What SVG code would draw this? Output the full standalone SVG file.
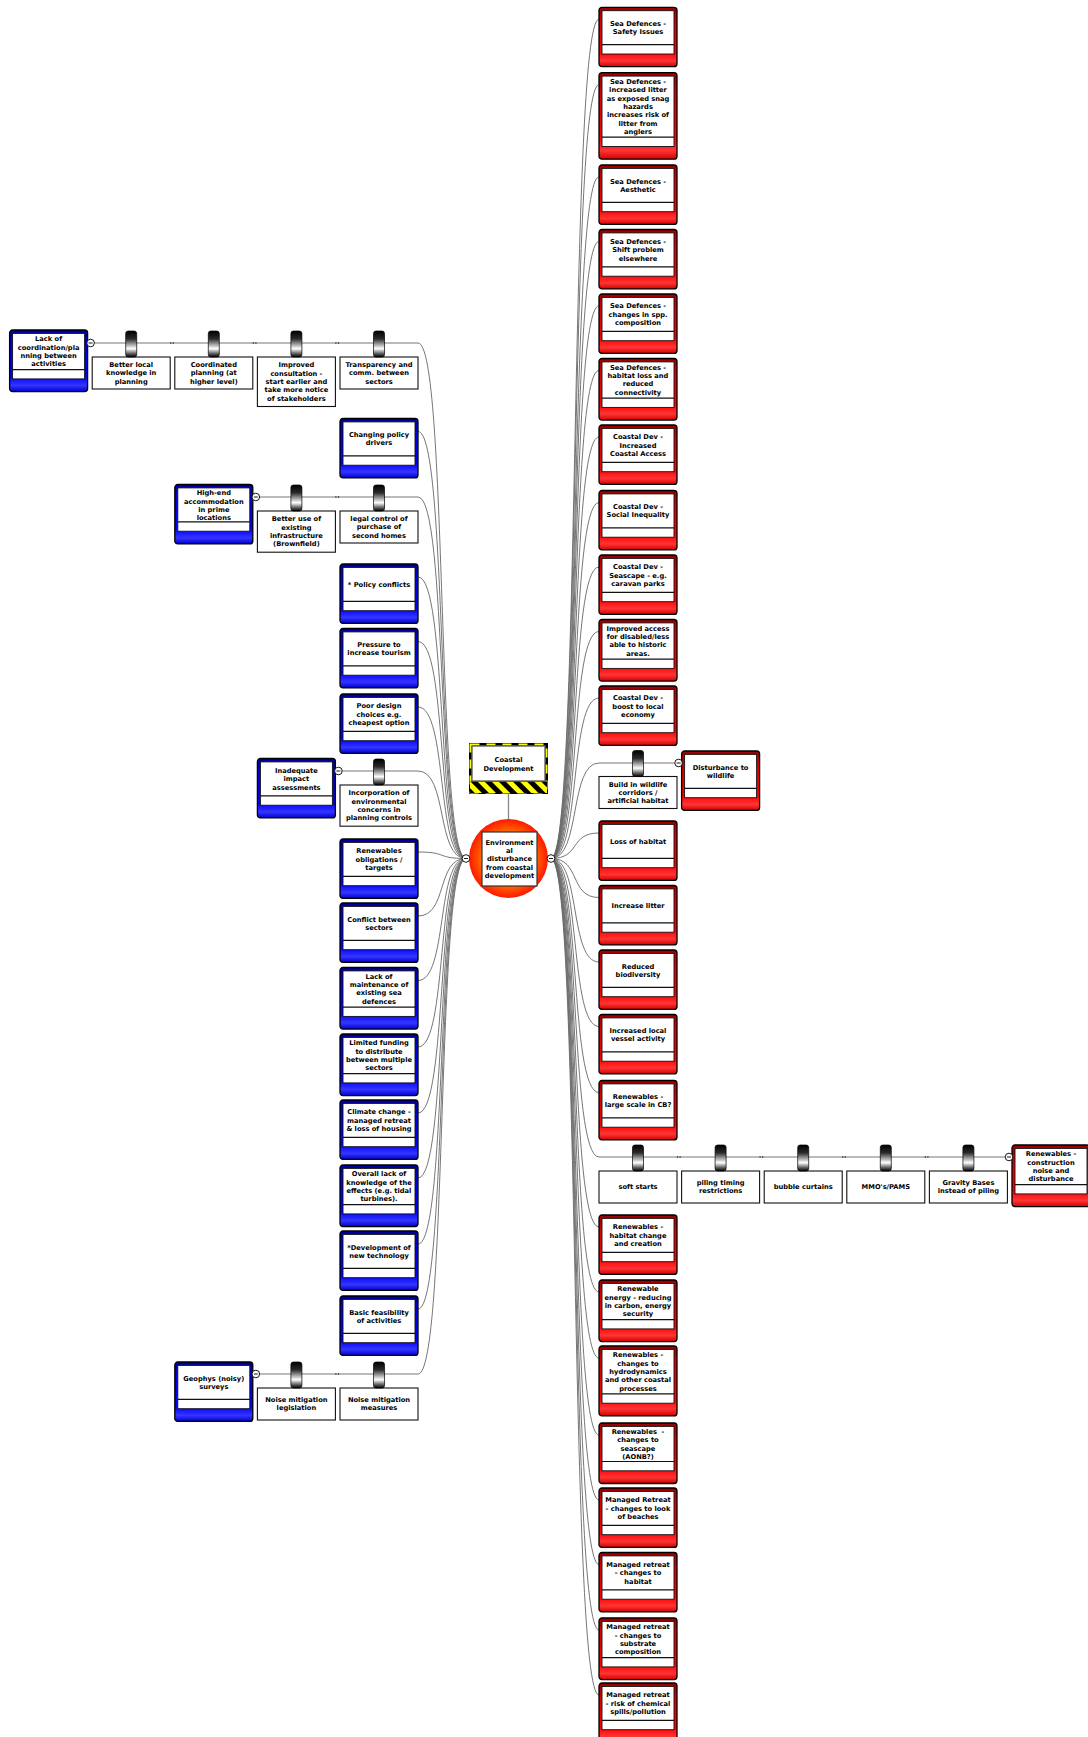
<svg xmlns="http://www.w3.org/2000/svg" xmlns:xlink="http://www.w3.org/1999/xlink" width="1088" height="1737" viewBox="0 0 1088 1737">
<defs>
<linearGradient id="gRed" x1="0" y1="0" x2="0" y2="1">
<stop offset="0" stop-color="#990000"/><stop offset="0.25" stop-color="#dd0000"/><stop offset="0.75" stop-color="#ff0000"/><stop offset="0.9" stop-color="#ff3535"/><stop offset="1" stop-color="#d00000"/>
</linearGradient>
<linearGradient id="gBlue" x1="0" y1="0" x2="0" y2="1">
<stop offset="0" stop-color="#000099"/><stop offset="0.25" stop-color="#0000dd"/><stop offset="0.75" stop-color="#0000ff"/><stop offset="0.9" stop-color="#3535ff"/><stop offset="1" stop-color="#0000d0"/>
</linearGradient>
<linearGradient id="gBar" x1="0" y1="0" x2="0" y2="1">
<stop offset="0" stop-color="#000"/><stop offset="0.3" stop-color="#2a2a2a"/><stop offset="0.68" stop-color="#fff"/><stop offset="0.88" stop-color="#555"/><stop offset="1" stop-color="#000"/>
</linearGradient>
<radialGradient id="gCirc" cx="0.5" cy="0.5" r="0.5">
<stop offset="0" stop-color="#ffb400"/><stop offset="0.55" stop-color="#ff8c00"/><stop offset="1" stop-color="#ff1800"/>
</radialGradient>
<pattern id="hz" width="10" height="10" patternUnits="userSpaceOnUse" patternTransform="rotate(-45)">
<rect width="10" height="10" fill="#ffff00"/><rect width="5" height="10" fill="#000"/>
</pattern>
<rect id="bar" x="-5.5" y="0" width="11" height="26" rx="2.5" fill="url(#gBar)" stroke="#000" stroke-width="0.7"/>
<g id="port"><circle r="3.8" fill="#fff" stroke="#000" stroke-width="0.9"/><line x1="-2" y1="0" x2="2" y2="0" stroke="#000" stroke-width="0.9"/></g>
<rect id="tick" x="-0.6" y="-1" width="1.2" height="2" fill="#555"/>
</defs>
<style>
.ro{fill:url(#gRed);stroke:#000;stroke-width:1.3}
.bo{fill:url(#gBlue);stroke:#000;stroke-width:1.3}
.in{fill:#fff;stroke:#111;stroke-width:0.9}
.dv{stroke:#111;stroke-width:1.2}
.mb{fill:#fff;stroke:#111;stroke-width:1.1}
.t{font-family:"DejaVu Sans",Verdana,sans-serif;font-weight:bold;font-size:6.7px;text-anchor:middle;fill:#000}
.c{fill:none;stroke:#666;stroke-width:0.9}
</style>
<rect width="1088" height="1737" fill="#fff"/>

<g id="connectors">
<line x1="508.5" y1="794" x2="508.5" y2="819" stroke="#888" stroke-width="1.3"/>
<path class="c" d="M466 858.5C436 858.5 448 343 418 343"/>
<path class="c" d="M466 858.5C436 858.5 448 431.5 418 431.5"/>
<path class="c" d="M466 858.5C436 858.5 448 497 418 497"/>
<path class="c" d="M466 858.5C436 858.5 448 577 418 577"/>
<path class="c" d="M466 858.5C436 858.5 448 641.5 418 641.5"/>
<path class="c" d="M466 858.5C436 858.5 448 707 418 707"/>
<path class="c" d="M466 858.5C436 858.5 448 771 418 771"/>
<path class="c" d="M466 858.5C436 858.5 448 852 418 852"/>
<path class="c" d="M466 858.5C436 858.5 448 916 418 916"/>
<path class="c" d="M466 858.5C436 858.5 448 980.5 418 980.5"/>
<path class="c" d="M466 858.5C436 858.5 448 1047 418 1047"/>
<path class="c" d="M466 858.5C436 858.5 448 1113 418 1113"/>
<path class="c" d="M466 858.5C436 858.5 448 1178 418 1178"/>
<path class="c" d="M466 858.5C436 858.5 448 1244 418 1244"/>
<path class="c" d="M466 858.5C436 858.5 448 1309 418 1309"/>
<path class="c" d="M466 858.5C436 858.5 448 1374 418 1374"/>
<path class="c" d="M551 858.5C581 858.5 569 19.3 599 19.3"/>
<path class="c" d="M551 858.5C581 858.5 569 84.7 599 84.7"/>
<path class="c" d="M551 858.5C581 858.5 569 177 599 177"/>
<path class="c" d="M551 858.5C581 858.5 569 241.5 599 241.5"/>
<path class="c" d="M551 858.5C581 858.5 569 306 599 306"/>
<path class="c" d="M551 858.5C581 858.5 569 370.5 599 370.5"/>
<path class="c" d="M551 858.5C581 858.5 569 437 599 437"/>
<path class="c" d="M551 858.5C581 858.5 569 502.5 599 502.5"/>
<path class="c" d="M551 858.5C581 858.5 569 567 599 567"/>
<path class="c" d="M551 858.5C581 858.5 569 631.5 599 631.5"/>
<path class="c" d="M551 858.5C581 858.5 569 698 599 698"/>
<path class="c" d="M551 858.5C581 858.5 569 763 599 763"/>
<path class="c" d="M551 858.5C581 858.5 569 833 599 833"/>
<path class="c" d="M551 858.5C581 858.5 569 897.5 599 897.5"/>
<path class="c" d="M551 858.5C581 858.5 569 962 599 962"/>
<path class="c" d="M551 858.5C581 858.5 569 1026.5 599 1026.5"/>
<path class="c" d="M551 858.5C581 858.5 569 1092.5 599 1092.5"/>
<path class="c" d="M551 858.5C581 858.5 569 1157 599 1157"/>
<path class="c" d="M551 858.5C581 858.5 569 1227 599 1227"/>
<path class="c" d="M551 858.5C581 858.5 569 1292 599 1292"/>
<path class="c" d="M551 858.5C581 858.5 569 1358 599 1358"/>
<path class="c" d="M551 858.5C581 858.5 569 1435 599 1435"/>
<path class="c" d="M551 858.5C581 858.5 569 1500 599 1500"/>
<path class="c" d="M551 858.5C581 858.5 569 1564.5 599 1564.5"/>
<path class="c" d="M551 858.5C581 858.5 569 1630 599 1630"/>
<path class="c" d="M551 858.5C581 858.5 569 1695 599 1695"/>
<line class="c" x1="418" y1="343" x2="94.4" y2="343"/>
<line class="c" x1="418" y1="497" x2="259.6" y2="497"/>
<line class="c" x1="418" y1="771" x2="342.2" y2="771"/>
<line class="c" x1="418" y1="1374" x2="259.6" y2="1374"/>
<line class="c" x1="599" y1="763" x2="674.8" y2="763"/>
<line class="c" x1="599" y1="1157" x2="1005.2" y2="1157"/>
<use href="#tick" x="170.7" y="343"/><use href="#tick" x="173.3" y="343"/>
<use href="#tick" x="253.3" y="343"/><use href="#tick" x="255.9" y="343"/>
<use href="#tick" x="335.9" y="343"/><use href="#tick" x="338.5" y="343"/>
<use href="#tick" x="335.9" y="497"/><use href="#tick" x="338.5" y="497"/>
<use href="#tick" x="335.9" y="1374"/><use href="#tick" x="338.5" y="1374"/>
<use href="#tick" x="677.5" y="1157"/><use href="#tick" x="680.1" y="1157"/>
<use href="#tick" x="760.1" y="1157"/><use href="#tick" x="762.7" y="1157"/>
<use href="#tick" x="842.7" y="1157"/><use href="#tick" x="845.3" y="1157"/>
<use href="#tick" x="925.3" y="1157"/><use href="#tick" x="927.9" y="1157"/>
</g>

<g id="coastal-development">
<rect x="469" y="743" width="79" height="51" fill="#000"/>
<rect x="470.5" y="744.5" width="76" height="48" fill="none" stroke="#ffff00" stroke-width="2" stroke-dasharray="9 7"/>
<rect x="470" y="781.5" width="77" height="11.5" fill="url(#hz)"/>
<rect x="472" y="746" width="73" height="35" fill="#fff" stroke="#666" stroke-width="1.4"/>
<text class="t"><tspan x="508.5" y="761.8">Coastal</tspan><tspan x="508.5" y="770.6">Development</tspan></text>
</g>
<g id="environmental-disturbance">
<circle cx="508.5" cy="858.5" r="39.5" fill="url(#gCirc)"/>
<rect x="482" y="832" width="55" height="54" fill="#fff" stroke="#333" stroke-width="1.2"/>
<text class="t"><tspan x="509.5" y="844.6">Environment</tspan><tspan x="509.5" y="852.9">al</tspan><tspan x="509.5" y="861.2">disturbance</tspan><tspan x="509.5" y="869.5">from coastal</tspan><tspan x="509.5" y="877.8">development</tspan></text>
</g>

<g id="r01" transform="translate(599,7.3)"><rect class="ro" width="78" height="59.4" rx="3"/><rect class="in" x="3" y="3.4" width="72" height="43.3"/><line class="dv" x1="3" y1="37.4" x2="75" y2="37.4"/><text class="t"><tspan x="39" y="18.55">Sea Defences -</tspan><tspan x="39" y="26.85">Safety Issues</tspan></text></g>
<g id="r02" transform="translate(599,72.7)"><rect class="ro" width="78" height="86.5" rx="3"/><rect class="in" x="3" y="3.4" width="72" height="70.4"/><line class="dv" x1="3" y1="64.5" x2="75" y2="64.5"/><text class="t"><tspan x="39" y="11.35">Sea Defences -</tspan><tspan x="39" y="19.65">increased litter</tspan><tspan x="39" y="27.95">as exposed snag</tspan><tspan x="39" y="36.25">hazards</tspan><tspan x="39" y="44.55">increases risk of</tspan><tspan x="39" y="52.85">litter from</tspan><tspan x="39" y="61.15">anglers</tspan></text></g>
<g id="r03" transform="translate(599,165)"><rect class="ro" width="78" height="59.4" rx="3"/><rect class="in" x="3" y="3.4" width="72" height="43.3"/><line class="dv" x1="3" y1="37.4" x2="75" y2="37.4"/><text class="t"><tspan x="39" y="18.55">Sea Defences -</tspan><tspan x="39" y="26.85">Aesthetic</tspan></text></g>
<g id="r04" transform="translate(599,229.5)"><rect class="ro" width="78" height="59.4" rx="3"/><rect class="in" x="3" y="3.4" width="72" height="43.3"/><line class="dv" x1="3" y1="37.4" x2="75" y2="37.4"/><text class="t"><tspan x="39" y="14.4">Sea Defences -</tspan><tspan x="39" y="22.7">Shift problem</tspan><tspan x="39" y="31">elsewhere</tspan></text></g>
<g id="r05" transform="translate(599,294)"><rect class="ro" width="78" height="59.4" rx="3"/><rect class="in" x="3" y="3.4" width="72" height="43.3"/><line class="dv" x1="3" y1="37.4" x2="75" y2="37.4"/><text class="t"><tspan x="39" y="14.4">Sea Defences -</tspan><tspan x="39" y="22.7">changes in spp.</tspan><tspan x="39" y="31">composition</tspan></text></g>
<g id="r06" transform="translate(599,358.5)"><rect class="ro" width="78" height="61.6" rx="3"/><rect class="in" x="3" y="3.4" width="72" height="45.5"/><line class="dv" x1="3" y1="39.6" x2="75" y2="39.6"/><text class="t"><tspan x="39" y="11.35">Sea Defences -</tspan><tspan x="39" y="19.65">habitat loss and</tspan><tspan x="39" y="27.95">reduced</tspan><tspan x="39" y="36.25">connectivity</tspan></text></g>
<g id="r07" transform="translate(599,425)"><rect class="ro" width="78" height="59.4" rx="3"/><rect class="in" x="3" y="3.4" width="72" height="43.3"/><line class="dv" x1="3" y1="37.4" x2="75" y2="37.4"/><text class="t"><tspan x="39" y="14.4">Coastal Dev -</tspan><tspan x="39" y="22.7">Increased</tspan><tspan x="39" y="31">Coastal Access</tspan></text></g>
<g id="r08" transform="translate(599,490.5)"><rect class="ro" width="78" height="59.4" rx="3"/><rect class="in" x="3" y="3.4" width="72" height="43.3"/><line class="dv" x1="3" y1="37.4" x2="75" y2="37.4"/><text class="t"><tspan x="39" y="18.55">Coastal Dev -</tspan><tspan x="39" y="26.85">Social Inequality</tspan></text></g>
<g id="r09" transform="translate(599,555)"><rect class="ro" width="78" height="59.4" rx="3"/><rect class="in" x="3" y="3.4" width="72" height="43.3"/><line class="dv" x1="3" y1="37.4" x2="75" y2="37.4"/><text class="t"><tspan x="39" y="14.4">Coastal Dev -</tspan><tspan x="39" y="22.7">Seascape - e.g.</tspan><tspan x="39" y="31">caravan parks</tspan></text></g>
<g id="r10" transform="translate(599,619.5)"><rect class="ro" width="78" height="61.6" rx="3"/><rect class="in" x="3" y="3.4" width="72" height="45.5"/><line class="dv" x1="3" y1="39.6" x2="75" y2="39.6"/><text class="t"><tspan x="39" y="11.35">Improved access</tspan><tspan x="39" y="19.65">for disabled/less</tspan><tspan x="39" y="27.95">able to historic</tspan><tspan x="39" y="36.25">areas.</tspan></text></g>
<g id="r11" transform="translate(599,686)"><rect class="ro" width="78" height="59.4" rx="3"/><rect class="in" x="3" y="3.4" width="72" height="43.3"/><line class="dv" x1="3" y1="37.4" x2="75" y2="37.4"/><text class="t"><tspan x="39" y="14.4">Coastal Dev -</tspan><tspan x="39" y="22.7">boost to local</tspan><tspan x="39" y="31">economy</tspan></text></g>
<g id="r12-disturbance" transform="translate(681.6,751)"><rect class="ro" width="78" height="59.4" rx="3"/><rect class="in" x="3" y="3.4" width="72" height="43.3"/><line class="dv" x1="3" y1="37.4" x2="75" y2="37.4"/><text class="t"><tspan x="39" y="18.55">Disturbance to</tspan><tspan x="39" y="26.85">wildlife</tspan></text></g>
<g id="m-wildlife-corridors" transform="translate(599,776.5)"><rect class="mb" width="78" height="32"/><text class="t"><tspan x="39" y="10">Build in wildlife</tspan><tspan x="39" y="18.3">corridors /</tspan><tspan x="39" y="26.6">artificial habitat</tspan></text></g>
<g id="r13" transform="translate(599,821)"><rect class="ro" width="78" height="59.4" rx="3"/><rect class="in" x="3" y="3.4" width="72" height="43.3"/><line class="dv" x1="3" y1="37.4" x2="75" y2="37.4"/><text class="t"><tspan x="39" y="22.7">Loss of habitat</tspan></text></g>
<g id="r14" transform="translate(599,885.5)"><rect class="ro" width="78" height="59.4" rx="3"/><rect class="in" x="3" y="3.4" width="72" height="43.3"/><line class="dv" x1="3" y1="37.4" x2="75" y2="37.4"/><text class="t"><tspan x="39" y="22.7">Increase litter</tspan></text></g>
<g id="r15" transform="translate(599,950)"><rect class="ro" width="78" height="59.4" rx="3"/><rect class="in" x="3" y="3.4" width="72" height="43.3"/><line class="dv" x1="3" y1="37.4" x2="75" y2="37.4"/><text class="t"><tspan x="39" y="18.55">Reduced</tspan><tspan x="39" y="26.85">biodiversity</tspan></text></g>
<g id="r16" transform="translate(599,1014.5)"><rect class="ro" width="78" height="59.4" rx="3"/><rect class="in" x="3" y="3.4" width="72" height="43.3"/><line class="dv" x1="3" y1="37.4" x2="75" y2="37.4"/><text class="t"><tspan x="39" y="18.55">Increased local</tspan><tspan x="39" y="26.85">vessel activity</tspan></text></g>
<g id="r17" transform="translate(599,1080.5)"><rect class="ro" width="78" height="59.4" rx="3"/><rect class="in" x="3" y="3.4" width="72" height="43.3"/><line class="dv" x1="3" y1="37.4" x2="75" y2="37.4"/><text class="t"><tspan x="39" y="18.55">Renewables -</tspan><tspan x="39" y="26.85">large scale in CB?</tspan></text></g>
<g id="r18-construction" transform="translate(1012,1145)"><rect class="ro" width="78" height="61.6" rx="3"/><rect class="in" x="3" y="3.4" width="72" height="45.5"/><line class="dv" x1="3" y1="39.6" x2="75" y2="39.6"/><text class="t"><tspan x="39" y="11.35">Renewables -</tspan><tspan x="39" y="19.65">construction</tspan><tspan x="39" y="27.95">noise and</tspan><tspan x="39" y="36.25">disturbance</tspan></text></g>
<g id="m-soft-starts" transform="translate(599,1171)"><rect class="mb" width="78" height="32"/><text class="t"><tspan x="39" y="18.3">soft starts</tspan></text></g>
<g id="m-piling-timing" transform="translate(681.6,1171)"><rect class="mb" width="78" height="32"/><text class="t"><tspan x="39" y="14.15">piling timing</tspan><tspan x="39" y="22.45">restrictions</tspan></text></g>
<g id="m-bubble" transform="translate(764.2,1171)"><rect class="mb" width="78" height="32"/><text class="t"><tspan x="39" y="18.3">bubble curtains</tspan></text></g>
<g id="m-mmo" transform="translate(846.8,1171)"><rect class="mb" width="78" height="32"/><text class="t"><tspan x="39" y="18.3">MMO's/PAMS</tspan></text></g>
<g id="m-gravity" transform="translate(929.4,1171)"><rect class="mb" width="78" height="32"/><text class="t"><tspan x="39" y="14.15">Gravity Bases</tspan><tspan x="39" y="22.45">instead of piling</tspan></text></g>
<g id="r19" transform="translate(599,1215)"><rect class="ro" width="78" height="59.4" rx="3"/><rect class="in" x="3" y="3.4" width="72" height="43.3"/><line class="dv" x1="3" y1="37.4" x2="75" y2="37.4"/><text class="t"><tspan x="39" y="14.4">Renewables -</tspan><tspan x="39" y="22.7">habitat change</tspan><tspan x="39" y="31">and creation</tspan></text></g>
<g id="r20" transform="translate(599,1280)"><rect class="ro" width="78" height="61.6" rx="3"/><rect class="in" x="3" y="3.4" width="72" height="45.5"/><line class="dv" x1="3" y1="39.6" x2="75" y2="39.6"/><text class="t"><tspan x="39" y="11.35">Renewable</tspan><tspan x="39" y="19.65">energy - reducing</tspan><tspan x="39" y="27.95">in carbon, energy</tspan><tspan x="39" y="36.25">security</tspan></text></g>
<g id="r21" transform="translate(599,1346)"><rect class="ro" width="78" height="69.9" rx="3"/><rect class="in" x="3" y="3.4" width="72" height="53.8"/><line class="dv" x1="3" y1="47.9" x2="75" y2="47.9"/><text class="t"><tspan x="39" y="11.35">Renewables -</tspan><tspan x="39" y="19.65">changes to</tspan><tspan x="39" y="27.95">hydrodynamics</tspan><tspan x="39" y="36.25">and other coastal</tspan><tspan x="39" y="44.55">processes</tspan></text></g>
<g id="r22" transform="translate(599,1423)"><rect class="ro" width="78" height="60.5" rx="3"/><rect class="in" x="3" y="3.4" width="72" height="44.4"/><line class="dv" x1="3" y1="38.5" x2="75" y2="38.5"/><text class="t"><tspan x="39" y="11">Renewables&#160; -</tspan><tspan x="39" y="19.3">changes to</tspan><tspan x="39" y="27.6">seascape</tspan><tspan x="39" y="35.9">(AONB?)</tspan></text></g>
<g id="r23" transform="translate(599,1488)"><rect class="ro" width="78" height="59.4" rx="3"/><rect class="in" x="3" y="3.4" width="72" height="43.3"/><line class="dv" x1="3" y1="37.4" x2="75" y2="37.4"/><text class="t"><tspan x="39" y="14.4">Managed Retreat</tspan><tspan x="39" y="22.7">- changes to look</tspan><tspan x="39" y="31">of beaches</tspan></text></g>
<g id="r24" transform="translate(599,1552.5)"><rect class="ro" width="78" height="59.4" rx="3"/><rect class="in" x="3" y="3.4" width="72" height="43.3"/><line class="dv" x1="3" y1="37.4" x2="75" y2="37.4"/><text class="t"><tspan x="39" y="14.4">Managed retreat</tspan><tspan x="39" y="22.7">- changes to</tspan><tspan x="39" y="31">habitat</tspan></text></g>
<g id="r25" transform="translate(599,1618)"><rect class="ro" width="78" height="61.6" rx="3"/><rect class="in" x="3" y="3.4" width="72" height="45.5"/><line class="dv" x1="3" y1="39.6" x2="75" y2="39.6"/><text class="t"><tspan x="39" y="11.35">Managed retreat</tspan><tspan x="39" y="19.65">- changes to</tspan><tspan x="39" y="27.95">substrate</tspan><tspan x="39" y="36.25">composition</tspan></text></g>
<g id="r26" transform="translate(599,1683)"><rect class="ro" width="78" height="59.4" rx="3"/><rect class="in" x="3" y="3.4" width="72" height="43.3"/><line class="dv" x1="3" y1="37.4" x2="75" y2="37.4"/><text class="t"><tspan x="39" y="14.4">Managed retreat</tspan><tspan x="39" y="22.7">- risk of chemical</tspan><tspan x="39" y="31">spills/pollution</tspan></text></g>

<g id="b-lack-coordination" transform="translate(9.6,330)"><rect class="bo" width="78" height="61.6" rx="3"/><rect class="in" x="3" y="3.4" width="72" height="45.5"/><line class="dv" x1="3" y1="39.6" x2="75" y2="39.6"/><text class="t"><tspan x="39" y="11.35">Lack of</tspan><tspan x="39" y="19.65">coordination/pla</tspan><tspan x="39" y="27.95">nning between</tspan><tspan x="39" y="36.25">activities</tspan></text></g>
<g id="m-local-knowledge" transform="translate(92.2,357)"><rect class="mb" width="78" height="32"/><text class="t"><tspan x="39" y="10">Better local</tspan><tspan x="39" y="18.3">knowledge in</tspan><tspan x="39" y="26.6">planning</tspan></text></g>
<g id="m-coordinated" transform="translate(174.8,357)"><rect class="mb" width="78" height="32"/><text class="t"><tspan x="39" y="10">Coordinated</tspan><tspan x="39" y="18.3">planning (at</tspan><tspan x="39" y="26.6">higher level)</tspan></text></g>
<g id="m-consultation" transform="translate(257.4,357)"><rect class="mb" width="78" height="49.5"/><text class="t"><tspan x="39" y="10.45">Improved</tspan><tspan x="39" y="18.75">consultation -</tspan><tspan x="39" y="27.05">start earlier and</tspan><tspan x="39" y="35.35">take more notice</tspan><tspan x="39" y="43.65">of stakeholders</tspan></text></g>
<g id="m-transparency" transform="translate(340,357)"><rect class="mb" width="78" height="32"/><text class="t"><tspan x="39" y="10">Transparency and</tspan><tspan x="39" y="18.3">comm. between</tspan><tspan x="39" y="26.6">sectors</tspan></text></g>
<g id="b-policy-drivers" transform="translate(340,418.5)"><rect class="bo" width="78" height="59.4" rx="3"/><rect class="in" x="3" y="3.4" width="72" height="43.3"/><line class="dv" x1="3" y1="37.4" x2="75" y2="37.4"/><text class="t"><tspan x="39" y="18.55">Changing policy</tspan><tspan x="39" y="26.85">drivers</tspan></text></g>
<g id="b-high-end" transform="translate(174.8,484.5)"><rect class="bo" width="78" height="59.4" rx="3"/><rect class="in" x="3" y="3.4" width="72" height="43.3"/><line class="dv" x1="3" y1="37.4" x2="75" y2="37.4"/><text class="t"><tspan x="39" y="10.8">High-end</tspan><tspan x="39" y="19.1">accommodation</tspan><tspan x="39" y="27.4">in prime</tspan><tspan x="39" y="35.7">locations</tspan></text></g>
<g id="m-brownfield" transform="translate(257.4,511)"><rect class="mb" width="78" height="41.2"/><text class="t"><tspan x="39" y="10.45">Better use of</tspan><tspan x="39" y="18.75">existing</tspan><tspan x="39" y="27.05">infrastructure</tspan><tspan x="39" y="35.35">(Brownfield)</tspan></text></g>
<g id="m-second-homes" transform="translate(340,511)"><rect class="mb" width="78" height="32"/><text class="t"><tspan x="39" y="10">legal control of</tspan><tspan x="39" y="18.3">purchase of</tspan><tspan x="39" y="26.6">second homes</tspan></text></g>
<g id="b-policy-conflicts" transform="translate(340,564)"><rect class="bo" width="78" height="59.4" rx="3"/><rect class="in" x="3" y="3.4" width="72" height="43.3"/><line class="dv" x1="3" y1="37.4" x2="75" y2="37.4"/><text class="t"><tspan x="39" y="22.7">* Policy conflicts</tspan></text></g>
<g id="b-tourism" transform="translate(340,628.5)"><rect class="bo" width="78" height="59.4" rx="3"/><rect class="in" x="3" y="3.4" width="72" height="43.3"/><line class="dv" x1="3" y1="37.4" x2="75" y2="37.4"/><text class="t"><tspan x="39" y="18.55">Pressure to</tspan><tspan x="39" y="26.85">increase tourism</tspan></text></g>
<g id="b-poor-design" transform="translate(340,694)"><rect class="bo" width="78" height="59.4" rx="3"/><rect class="in" x="3" y="3.4" width="72" height="43.3"/><line class="dv" x1="3" y1="37.4" x2="75" y2="37.4"/><text class="t"><tspan x="39" y="14.4">Poor design</tspan><tspan x="39" y="22.7">choices e.g.</tspan><tspan x="39" y="31">cheapest option</tspan></text></g>
<g id="b-impact-assessments" transform="translate(257.4,758.5)"><rect class="bo" width="78" height="59.4" rx="3"/><rect class="in" x="3" y="3.4" width="72" height="43.3"/><line class="dv" x1="3" y1="37.4" x2="75" y2="37.4"/><text class="t"><tspan x="39" y="14.4">Inadequate</tspan><tspan x="39" y="22.7">impact</tspan><tspan x="39" y="31">assessments</tspan></text></g>
<g id="m-env-concerns" transform="translate(340,785)"><rect class="mb" width="78" height="41.2"/><text class="t"><tspan x="39" y="10.45">Incorporation of</tspan><tspan x="39" y="18.75">environmental</tspan><tspan x="39" y="27.05">concerns in</tspan><tspan x="39" y="35.35">planning controls</tspan></text></g>
<g id="b-renewables-targets" transform="translate(340,839)"><rect class="bo" width="78" height="59.4" rx="3"/><rect class="in" x="3" y="3.4" width="72" height="43.3"/><line class="dv" x1="3" y1="37.4" x2="75" y2="37.4"/><text class="t"><tspan x="39" y="14.4">Renewables</tspan><tspan x="39" y="22.7">obligations /</tspan><tspan x="39" y="31">targets</tspan></text></g>
<g id="b-conflict-sectors" transform="translate(340,903)"><rect class="bo" width="78" height="59.4" rx="3"/><rect class="in" x="3" y="3.4" width="72" height="43.3"/><line class="dv" x1="3" y1="37.4" x2="75" y2="37.4"/><text class="t"><tspan x="39" y="18.55">Conflict between</tspan><tspan x="39" y="26.85">sectors</tspan></text></g>
<g id="b-maintenance" transform="translate(340,967.5)"><rect class="bo" width="78" height="61.6" rx="3"/><rect class="in" x="3" y="3.4" width="72" height="45.5"/><line class="dv" x1="3" y1="39.6" x2="75" y2="39.6"/><text class="t"><tspan x="39" y="11.35">Lack of</tspan><tspan x="39" y="19.65">maintenance of</tspan><tspan x="39" y="27.95">existing sea</tspan><tspan x="39" y="36.25">defences</tspan></text></g>
<g id="b-funding" transform="translate(340,1034)"><rect class="bo" width="78" height="61.6" rx="3"/><rect class="in" x="3" y="3.4" width="72" height="45.5"/><line class="dv" x1="3" y1="39.6" x2="75" y2="39.6"/><text class="t"><tspan x="39" y="11.35">Limited funding</tspan><tspan x="39" y="19.65">to distribute</tspan><tspan x="39" y="27.95">between multiple</tspan><tspan x="39" y="36.25">sectors</tspan></text></g>
<g id="b-climate" transform="translate(340,1100)"><rect class="bo" width="78" height="59.4" rx="3"/><rect class="in" x="3" y="3.4" width="72" height="43.3"/><line class="dv" x1="3" y1="37.4" x2="75" y2="37.4"/><text class="t"><tspan x="39" y="14.4">Climate change -</tspan><tspan x="39" y="22.7">managed retreat</tspan><tspan x="39" y="31">&amp; loss of housing</tspan></text></g>
<g id="b-knowledge" transform="translate(340,1165)"><rect class="bo" width="78" height="61.6" rx="3"/><rect class="in" x="3" y="3.4" width="72" height="45.5"/><line class="dv" x1="3" y1="39.6" x2="75" y2="39.6"/><text class="t"><tspan x="39" y="11.35">Overall lack of</tspan><tspan x="39" y="19.65">knowledge of the</tspan><tspan x="39" y="27.95">effects (e.g. tidal</tspan><tspan x="39" y="36.25">turbines).</tspan></text></g>
<g id="b-new-tech" transform="translate(340,1231)"><rect class="bo" width="78" height="59.4" rx="3"/><rect class="in" x="3" y="3.4" width="72" height="43.3"/><line class="dv" x1="3" y1="37.4" x2="75" y2="37.4"/><text class="t"><tspan x="39" y="18.55">*Development of</tspan><tspan x="39" y="26.85">new technology</tspan></text></g>
<g id="b-feasibility" transform="translate(340,1296)"><rect class="bo" width="78" height="59.4" rx="3"/><rect class="in" x="3" y="3.4" width="72" height="43.3"/><line class="dv" x1="3" y1="37.4" x2="75" y2="37.4"/><text class="t"><tspan x="39" y="18.55">Basic feasibility</tspan><tspan x="39" y="26.85">of activities</tspan></text></g>
<g id="b-geophys" transform="translate(174.8,1362)"><rect class="bo" width="78" height="59.4" rx="3"/><rect class="in" x="3" y="3.4" width="72" height="43.3"/><line class="dv" x1="3" y1="37.4" x2="75" y2="37.4"/><text class="t"><tspan x="39" y="18.55">Geophys (noisy)</tspan><tspan x="39" y="26.85">surveys</tspan></text></g>
<g id="m-noise-legislation" transform="translate(257.4,1388)"><rect class="mb" width="78" height="32"/><text class="t"><tspan x="39" y="14.15">Noise mitigation</tspan><tspan x="39" y="22.45">legislation</tspan></text></g>
<g id="m-noise-measures" transform="translate(340,1388)"><rect class="mb" width="78" height="32"/><text class="t"><tspan x="39" y="14.15">Noise mitigation</tspan><tspan x="39" y="22.45">measures</tspan></text></g>

<g id="barriers">
<use href="#bar" x="131.2" y="331"/><use href="#bar" x="213.8" y="331"/><use href="#bar" x="296.4" y="331"/><use href="#bar" x="379" y="331"/>
<use href="#bar" x="296.4" y="485"/><use href="#bar" x="379" y="485"/>
<use href="#bar" x="379" y="759"/>
<use href="#bar" x="296.4" y="1362"/><use href="#bar" x="379" y="1362"/>
<use href="#bar" x="638" y="750.5"/>
<use href="#bar" x="638" y="1145"/><use href="#bar" x="720.6" y="1145"/><use href="#bar" x="803.2" y="1145"/><use href="#bar" x="885.8" y="1145"/><use href="#bar" x="968.4" y="1145"/>
</g>

<g id="ports">
<use href="#port" x="466" y="858.5"/><use href="#port" x="551" y="858.5"/>
<use href="#port" x="90.6" y="343"/><use href="#port" x="255.8" y="497"/><use href="#port" x="338.4" y="771"/><use href="#port" x="255.8" y="1374"/>
<use href="#port" x="678.6" y="763"/><use href="#port" x="1009" y="1157"/>
</g>
</svg>
